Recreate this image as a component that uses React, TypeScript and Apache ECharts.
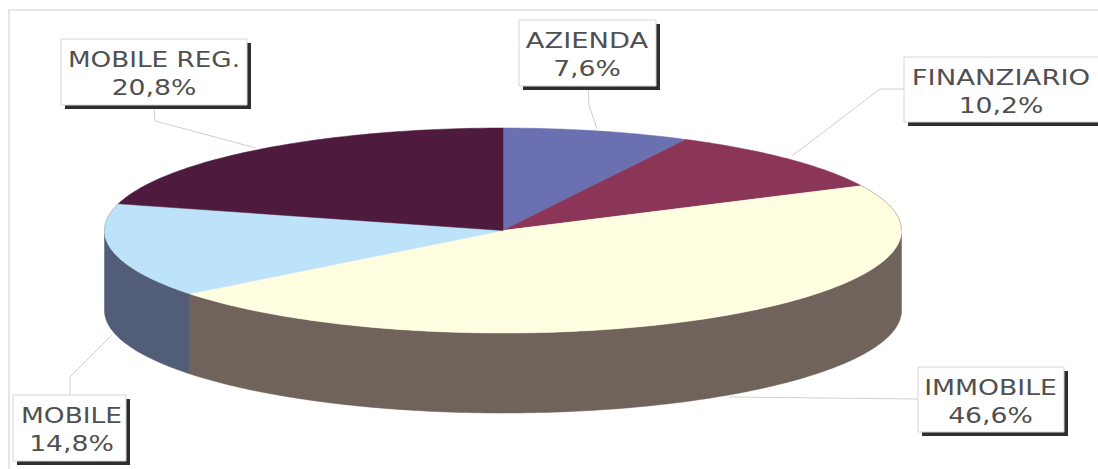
import React, { useEffect, useRef } from "react";
import * as echarts from "echarts";

const categories = ["AZIENDA", "FINANZIARIO", "IMMOBILE", "MOBILE", "MOBILE REG."];
const values = [7.6, 10.2, 46.6, 14.8, 20.8];

const topColors = ["#6b70b0", "#8b3558", "#fffee0", "#bde3fa", "#4e1a3e"];
const sideColors = ["#3f4170", "#5a2238", "#6f635b", "#525d78", "#33102a"];
const rimColors = ["", "", "#b9b9a6", "#a9c3d6", ""];

const PIE = { cx: 503, cy: 230.5, rx: 398.5, ry: 102.5, depth: 80 };

// label boxes: x, y, w, h, leader points
const LABELS: { box: number[]; leader: number[][] }[] = [
  { box: [519, 20, 137, 66], leader: [[588, 86], [589, 105], [597, 129]] },
  { box: [904, 57, 204, 65], leader: [[904, 89], [880, 89], [792, 156]] },
  { box: [918, 367, 146, 65], leader: [[918, 399], [729, 397]] },
  { box: [13, 395, 113, 66], leader: [[70, 395], [70, 377], [112, 335]] },
  { box: [61, 39, 186, 66], leader: [[154, 105], [155, 121], [256, 148]] },
];
const TEXT_X = [587, 1001, 990.5, 71.5, 154];
const TEXT_SCALE = [1.3, 1.31, 1.27, 1.26, 1.25];
const PERCENT_SCALE = 1.27;

const total = values.reduce((a, b) => a + b, 0);
const fmt = (v: number) => v.toFixed(1).replace(".", ",") + "%";

function pt(a: number, dy = 0) {
  return [PIE.cx + PIE.rx * Math.sin(a), PIE.cy - PIE.ry * Math.cos(a) + dy];
}

function arc(a0: number, a1: number, dy = 0) {
  const steps = Math.max(8, Math.ceil((a1 - a0) * 60));
  const out: number[][] = [];
  for (let s = 0; s <= steps; s++) out.push(pt(a0 + ((a1 - a0) * s) / steps, dy));
  return out;
}

function renderSlice(params: any, api: any) {
  const i = params.dataIndex;
  const before = values.slice(0, i).reduce((a, b) => a + b, 0);
  const a0 = (before / total) * Math.PI * 2;
  const a1 = ((before + api.value(0)) / total) * Math.PI * 2;
  const children: any[] = [];
  const f0 = Math.max(a0, Math.PI / 2);
  const f1 = Math.min(a1, (Math.PI * 3) / 2);
  if (f1 > f0) {
    children.push({
      type: "polygon",
      shape: { points: arc(f0, f1).concat(arc(f0, f1, PIE.depth).reverse()) },
      style: { fill: sideColors[i], stroke: sideColors[i], lineWidth: 0.5 },
    });
  }
  children.push({
    type: "polygon",
    shape: { points: [[PIE.cx, PIE.cy]].concat(arc(a0, a1)) },
    style: { fill: topColors[i], stroke: topColors[i], lineWidth: 0.5 },
  });
  if (rimColors[i]) {
    const backRanges = [
      [a0, Math.min(a1, Math.PI / 2)],
      [Math.max(a0, (Math.PI * 3) / 2), a1],
    ];
    for (const [r0, r1] of backRanges) {
      if (r1 > r0) {
        children.push({
          type: "polyline",
          shape: { points: arc(r0, r1) },
          style: { stroke: rimColors[i], lineWidth: 1, fill: "none" },
        });
      }
    }
  }
  return { type: "group", children };
}

function labelText(x: number, y: number, text: string, scaleX: number) {
  return {
    type: "text",
    x,
    y,
    scaleX,
    style: {
      x: 0,
      y: 0,
      text,
      fill: "#505050",
      font: "21px 'DejaVu Sans'",
      align: "center",
      verticalAlign: "middle",
    },
  };
}

function renderLabel(params: any, api: any) {
  const i = params.dataIndex;
  const { box, leader } = LABELS[i];
  const [x, y, w, h] = box;
  return {
    type: "group",
    children: [
      { type: "polyline", shape: { points: leader }, style: { stroke: "#cfcfcf", lineWidth: 1, fill: "none" } },
      { type: "rect", shape: { x: x + 4, y: y + 4, width: w, height: h }, style: { fill: "#2e2e2e" } },
      { type: "rect", shape: { x, y, width: w, height: h }, style: { fill: "#ffffff", stroke: "#d6d6d6", lineWidth: 1 } },
      labelText(TEXT_X[i], y + 21, categories[i], TEXT_SCALE[i]),
      labelText(TEXT_X[i], y + 49, fmt(api.value(0)), PERCENT_SCALE),
    ],
  };
}

export default function App() {
  const ref = useRef<HTMLDivElement>(null);
  useEffect(() => {
    document.body.style.margin = "0";
    const chart = echarts.init(ref.current!, undefined, { renderer: "svg" });
    chart.setOption({
      animation: false,
      backgroundColor: "#ffffff",
      graphic: [
        {
          type: "polyline",
          silent: true,
          z: -1,
          shape: { points: [[9, 469], [9, 10], [1098, 10]] },
          style: { stroke: "#dedede", lineWidth: 1.5, fill: "none" },
        },
      ],
      series: [
        { type: "custom", coordinateSystem: "none", renderItem: renderSlice, data: values, clip: false, silent: true, z: 2 },
        { type: "custom", coordinateSystem: "none", renderItem: renderLabel, data: values, clip: false, silent: true, z: 3 },
      ],
    });
    return () => chart.dispose();
  }, []);
  return <div ref={ref} style={{ width: 1098, height: 469 }} />;
}
